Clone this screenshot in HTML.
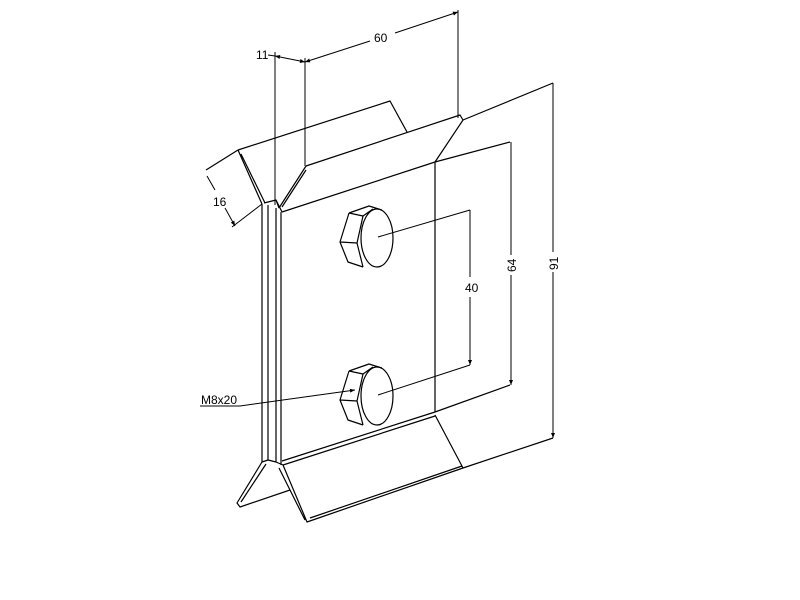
<!DOCTYPE html>
<html><head><style>body{margin:0;background:#fff}svg{display:block}text{font-family:"Liberation Sans",sans-serif;font-size:12px;fill:#000}</style></head>
<body>
<svg width="800" height="600" viewBox="0 0 800 600" xmlns="http://www.w3.org/2000/svg">
<defs><marker id="a" viewBox="0 0 10 10" refX="10" refY="5" markerWidth="8" markerHeight="5" orient="auto-start-reverse"><path d="M0,1 L10,5 L0,9 z" fill="#000"/></marker></defs>
<g stroke="#000" stroke-width="1.2" fill="none" stroke-linejoin="round">
<path d="M238,150 L390,101 L407,132"/>
<path d="M238,150 L206,170 M238,150 L262,204 M241,154 L265,203"/>
<path d="M306,166 L460,115 L463,120 L435,162 L282,212"/>
<path d="M306,166 L279,208 M306,170 L282,207 M463,120 L553,83"/>
<path d="M264,203 L276,200 L282,212 M276,200 L279,208"/>
<path d="M262,204 L262,462 M268,205 L268,460 M276,208 L276,462 M281,212 L281,465"/>
<path d="M435,162 L435,412 M435,162 L510,142"/>
<path d="M282,461 L435,412 M283,465 L435,416 M435,412 L510,385"/>
<path d="M262,462 L268,460 L276,462 L283,465"/>
<path d="M283,465 L307,522 L463,468 L435,415 M279,468 L305,520 M310,518 L462,466 M463,468 L553,438"/>
<path d="M262,462 L237,503 L240,507 L290,490 M266,464 L241,502"/>
<g id="b">
<path d="M349,213 L369,206 L382,210 M349,213 L340,242 L348,262 L363,267 M349,213 L363,216 L357,243 L340,242 M357,243 L363,267 M363,216 L373,209"/>
<ellipse cx="377" cy="238" rx="16" ry="29"/>
</g>
<use href="#b" transform="translate(0,158)"/>
</g>
<g stroke="#000" stroke-width="1" fill="none">
<path d="M275,52 L275,205 M305,58 L305,166 M458,10 L458,118"/>
<path d="M395,33 L458,12" marker-end="url(#a)"/>
<path d="M370,41 L305,62" marker-end="url(#a)"/>
<path d="M268,55 L275,56"/>
<path d="M290,59 L275,56" marker-end="url(#a)"/>
<path d="M290,59 L305,62" marker-end="url(#a)"/>
<path d="M215,190 L207,176 M225,208 L235,226" marker-end="url(#a)"/>
<path d="M262,204 L232,227"/>
<path d="M511,255 L511,142 M511,275 L511,385" marker-end="url(#a)"/>
<path d="M553,252 L553,83 M553,272 L553,438" marker-end="url(#a)"/>
<path d="M470,277 L470,210 M470,297 L470,365" marker-end="url(#a)"/>
<path d="M378,237 L470,210 M378,395 L470,365"/>
<path d="M200,406 L240,406 L355,390" marker-end="url(#a)"/>
</g>
<text x="374" y="42">60</text>
<text x="256" y="59">11</text>
<text x="213" y="206">16</text>
<text x="465" y="292">40</text>
<text x="201" y="404">M8x20</text>
<text x="0" y="0" transform="translate(516,272) rotate(-90)">64</text>
<text x="0" y="0" transform="translate(558,270) rotate(-90)">91</text>
</svg>
</body></html>
